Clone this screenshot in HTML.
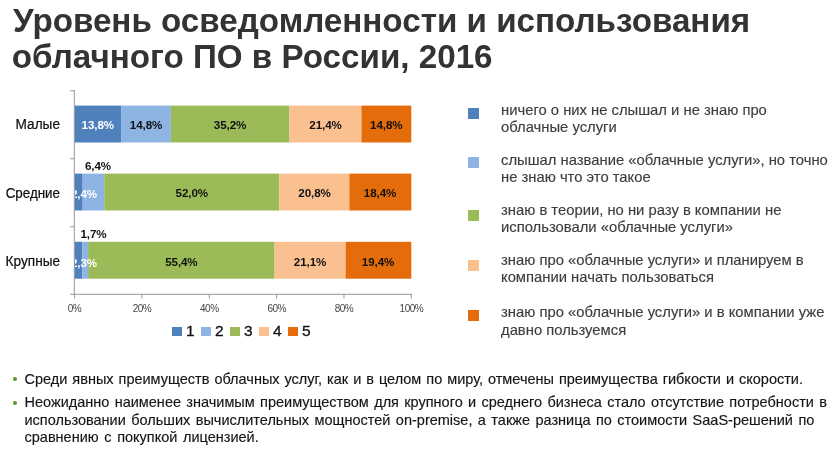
<!DOCTYPE html>
<html><head><meta charset="utf-8">
<style>
html,body{margin:0;padding:0;background:#fff;width:840px;height:449px;overflow:hidden;position:relative;font-family:"Liberation Sans",sans-serif;}
.a{position:absolute;white-space:nowrap;}
.title{left:13px;font-weight:bold;font-size:33.2px;color:#333333;line-height:35px;}
.cat{font-size:14px;color:#0d0d0d;text-align:right;width:60px;left:0;line-height:16px;transform-origin:60px 0;-webkit-text-stroke:0.2px #0d0d0d;}
.bar{position:absolute;height:36.7px;}
.c1{background:#4F81BD}.c2{background:#8EB4E3}.c3{background:#9BBB59}.c4{background:#FAC090}.c5{background:#E46C0A}
.lbl{position:absolute;font-weight:bold;font-size:11.6px;line-height:14px;color:#111;text-align:center;width:60px;letter-spacing:-0.1px;}
.w{color:#fff}
.ax{position:absolute;background:#8c8c8c;}
.xl{position:absolute;font-size:10px;color:#454545;width:40px;text-align:center;line-height:10px;letter-spacing:-0.5px}
.lg{position:absolute;font-size:15.5px;color:#111;line-height:16px;-webkit-text-stroke:0.3px #111}
.lsq{position:absolute;width:9.6px;height:9px;}
.lt{position:absolute;left:501px;font-size:14.8px;color:#3d3d3d;line-height:17.4px;-webkit-text-stroke:0.15px #3d3d3d;}
.rsq{position:absolute;left:468px;width:11px;height:11px;}
.bl{position:absolute;left:24.5px;font-size:14.5px;color:#151515;line-height:17px;-webkit-text-stroke:0.15px #151515;}
.dot{position:absolute;left:12.9px;width:4px;height:4px;border-radius:50%;background:#559a28}
</style></head><body><div style="position:absolute;left:0;top:0;width:840px;height:449px;will-change:transform">
<div class="a title" style="top:3px">Уровень осведомленности и использования</div>
<div class="a title" style="top:39.2px;left:11.8px">облачного ПО в России, 2016</div>

<!-- axes -->
<svg style="position:absolute;left:0;top:0" width="840" height="449" viewBox="0 0 840 449">
<rect x="74.60" y="105.6" width="46.46" height="36.9" fill="#4F81BD"/>
<rect x="121.06" y="105.6" width="49.83" height="36.9" fill="#8EB4E3"/>
<rect x="170.90" y="105.6" width="118.52" height="36.9" fill="#9BBB59"/>
<rect x="289.41" y="105.6" width="72.05" height="36.9" fill="#FAC090"/>
<rect x="361.47" y="105.6" width="49.83" height="36.9" fill="#E46C0A"/>
<rect x="74.60" y="173.6" width="8.08" height="36.9" fill="#4F81BD"/>
<rect x="82.68" y="173.6" width="21.55" height="36.9" fill="#8EB4E3"/>
<rect x="104.23" y="173.6" width="175.08" height="36.9" fill="#9BBB59"/>
<rect x="279.31" y="173.6" width="70.03" height="36.9" fill="#FAC090"/>
<rect x="349.35" y="173.6" width="61.95" height="36.9" fill="#E46C0A"/>
<rect x="74.60" y="241.8" width="7.74" height="36.9" fill="#4F81BD"/>
<rect x="82.34" y="241.8" width="5.72" height="36.9" fill="#8EB4E3"/>
<rect x="88.07" y="241.8" width="186.53" height="36.9" fill="#9BBB59"/>
<rect x="274.60" y="241.8" width="71.04" height="36.9" fill="#FAC090"/>
<rect x="345.64" y="241.8" width="65.66" height="36.9" fill="#E46C0A"/>
<rect x="73.8" y="90" width="1" height="204.8" fill="#979797"/>
<rect x="70" y="90.3" width="4" height="1" fill="#979797"/>
<rect x="70" y="158.3" width="4" height="1" fill="#979797"/>
<rect x="70" y="226.3" width="4" height="1" fill="#979797"/>
<rect x="70" y="293.8" width="341.8" height="1" fill="#979797"/>
<rect x="74.10" y="294" width="1" height="4.5" fill="#979797"/>
<rect x="141.44" y="294" width="1" height="4.5" fill="#979797"/>
<rect x="208.78" y="294" width="1" height="4.5" fill="#979797"/>
<rect x="276.12" y="294" width="1" height="4.5" fill="#979797"/>
<rect x="343.46" y="294" width="1" height="4.5" fill="#979797"/>
<rect x="410.80" y="294" width="1" height="4.5" fill="#979797"/>
</svg>

<div class="xl" style="left:54.5px;top:304.2px">0%</div>
<div class="xl" style="left:122px;top:304.2px">20%</div>
<div class="xl" style="left:189.3px;top:304.2px">40%</div>
<div class="xl" style="left:256.7px;top:304.2px">60%</div>
<div class="xl" style="left:324px;top:304.2px">80%</div>
<div class="xl" style="left:391.4px;top:304.2px">100%</div>

<!-- categories -->
<div class="a cat" style="top:116px;transform:scaleX(0.975)">Малые</div>
<div class="a cat" style="top:184.5px;transform:scaleX(0.955)">Средние</div>
<div class="a cat" style="top:252.5px;transform:scaleX(0.972)">Крупные</div>

<!-- bars row 1 -->
<div class="lbl w" style="left:67.8px;top:118px">13,8%</div>
<div class="lbl" style="left:116px;top:118px">14,8%</div>
<div class="lbl" style="left:200px;top:118px">35,2%</div>
<div class="lbl" style="left:295.5px;top:118px">21,4%</div>
<div class="lbl" style="left:356.3px;top:118px">14,8%</div>

<!-- bars row 2 -->
<div style="position:absolute;left:75px;top:173px;width:60px;height:38px;overflow:hidden">
<div class="lbl w" style="left:-21px;top:14px">2,4%</div></div>
<div class="lbl" style="left:68px;top:159px">6,4%</div>
<div class="lbl" style="left:161.8px;top:186px">52,0%</div>
<div class="lbl" style="left:284.5px;top:186px">20,8%</div>
<div class="lbl" style="left:350px;top:186px">18,4%</div>

<!-- bars row 3 -->
<div style="position:absolute;left:75px;top:242px;width:60px;height:37px;overflow:hidden">
<div class="lbl w" style="left:-21px;top:13.5px">2,3%</div></div>
<div class="lbl" style="left:63.5px;top:227px">1,7%</div>
<div class="lbl" style="left:151.4px;top:255px">55,4%</div>
<div class="lbl" style="left:280px;top:255px">21,1%</div>
<div class="lbl" style="left:348px;top:255px">19,4%</div>

<!-- bottom legend -->
<div class="lsq c1" style="left:172.4px;top:327.4px"></div><div class="lg" style="left:186px;top:323px">1</div>
<div class="lsq c2" style="left:201.4px;top:327.4px"></div><div class="lg" style="left:215px;top:323px">2</div>
<div class="lsq c3" style="left:230.2px;top:327.4px"></div><div class="lg" style="left:244px;top:323px">3</div>
<div class="lsq c4" style="left:259.4px;top:327.4px"></div><div class="lg" style="left:273px;top:323px">4</div>
<div class="lsq c5" style="left:288.2px;top:327.4px"></div><div class="lg" style="left:302px;top:323px">5</div>

<!-- right legend -->
<div class="rsq c1" style="top:108px"></div>
<div class="a lt" style="top:102px">ничего о них не слышал и не знаю про<br>облачные услуги</div>
<div class="rsq c2" style="top:157px"></div>
<div class="a lt" style="top:152px">слышал название «облачные услуги», но точно<br>не знаю что это такое</div>
<div class="rsq c3" style="top:210px"></div>
<div class="a lt" style="top:202px">знаю в теории, но ни разу в компании не<br>использовали «облачные услуги»</div>
<div class="rsq c4" style="top:260px"></div>
<div class="a lt" style="top:252px">знаю про «облачные услуги» и планируем в<br>компании начать пользоваться</div>
<div class="rsq c5" style="top:310px"></div>
<div class="a lt" style="top:304.2px">знаю про «облачные услуги» и в компании уже<br>давно пользуемся</div>

<!-- bullets -->
<div class="dot" style="top:377px"></div>
<div class="a bl" style="top:370.5px;word-spacing:0.95px">Среди явных преимуществ облачных услуг, как и в целом по миру, отмечены преимущества гибкости и скорости.</div>
<div class="dot" style="top:400.8px"></div>
<div class="a bl" style="top:394px;word-spacing:1.3px">Неожиданно наименее значимым преимуществом для крупного и среднего бизнеса стало отсутствие потребности в</div>
<div class="a bl" style="top:411.5px;word-spacing:1.4px">использовании больших вычислительных мощностей on-premise, а также разница по стоимости SaaS-решений по</div>
<div class="a bl" style="top:429px;word-spacing:1.6px">сравнению с покупкой лицензией.</div>
</div></body></html>
